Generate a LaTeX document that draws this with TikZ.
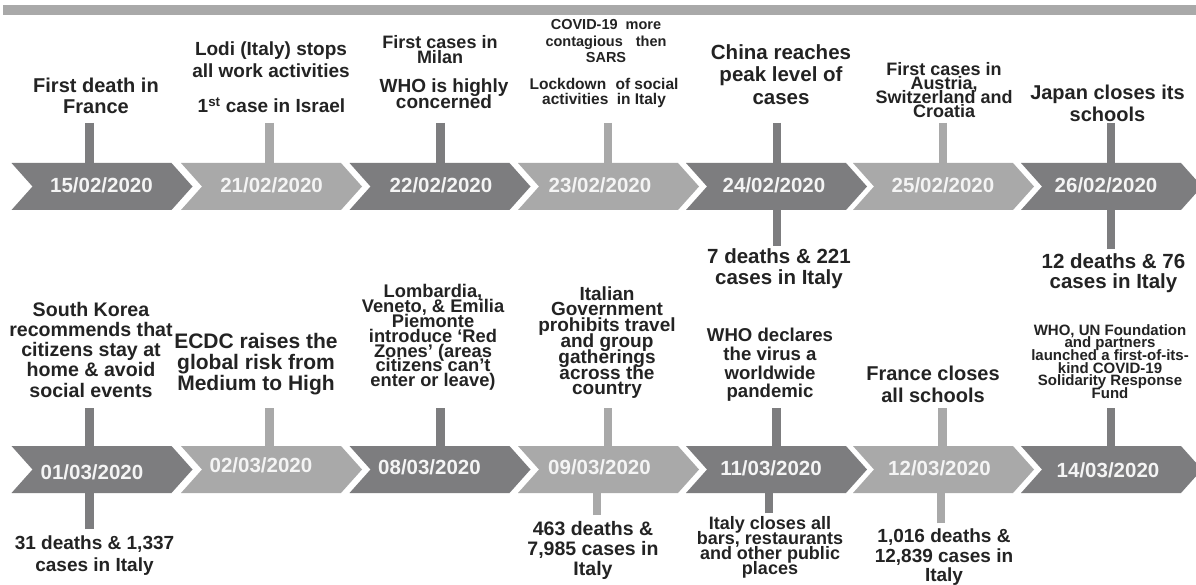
\documentclass[tikz,border=0pt]{standalone}
\usepackage{fontspec}
\setmainfont{Liberation Sans}
\usetikzlibrary{calc}
\lineskiplimit=-\maxdimen
\definecolor{chdark}{RGB}{125,125,127}
\definecolor{chlight}{RGB}{169,169,169}
\definecolor{txt}{RGB}{35,35,35}
\definecolor{datecol}{RGB}{244,244,244}
\tikzset{
  chbody/.style={minimum width=181pt,minimum height=47pt,inner sep=0pt,outer sep=0pt,anchor=north west},
  datelbl/.style={font=\bfseries\fontsize{20.5}{22}\selectfont,text=datecol,inner sep=0pt},
  ev/.style 2 args={font=\bfseries\fontsize{#1}{#2}\selectfont,text=txt,align=center,inner sep=0pt},
  stubd/.style={draw=chdark,line width=8.5pt},
  stubl/.style={draw=chlight,line width=8.5pt},
}
\newcommand\chevfill[2]{\fill[#2] (#1.north west) -- ($(#1.north east)+(-21pt,0pt)$) -- (#1.east) -- ($(#1.south east)+(-21pt,0pt)$) -- (#1.south west) -- ($(#1.west)+(21pt,0pt)$) -- cycle;}
\begin{document}
\begin{tikzpicture}[x=1pt,y=-1pt]
\useasboundingbox (0,0) rectangle (1196,585);
\fill[white] (0,0) rectangle (1196,585);
\fill[chlight] (3,5) rectangle (1196,15);

% chevron bodies, top row
\node[chbody] (t1) at (11.5,163) {};
\node[chbody] (t2) at (181,163) {};
\node[chbody] (t3) at (349.5,163) {};
\node[chbody] (t4) at (518,163) {};
\node[chbody] (t5) at (686,163) {};
\node[chbody] (t6) at (853,163) {};
\node[chbody] (t7) at (1021,163) {};
% bottom row
\node[chbody] (b1) at (11.5,446) {};
\node[chbody] (b2) at (181,446) {};
\node[chbody] (b3) at (349.5,446) {};
\node[chbody] (b4) at (518,446) {};
\node[chbody] (b5) at (686,446) {};
\node[chbody] (b6) at (853,446) {};
\node[chbody] (b7) at (1021,446) {};

% stub free ends
\coordinate (ta1) at (89.5,123);
\coordinate (ta2) at (269.5,123);
\coordinate (ta3) at (440.5,123);
\coordinate (ta4) at (608,123);
\coordinate (ta5) at (777,123);
\coordinate (ta6) at (943,123);
\coordinate (ta7) at (1111,123);
\coordinate (tb5) at (777,246);
\coordinate (tb7) at (1111,249);
\coordinate (ba1) at (89.5,408);
\coordinate (ba2) at (269.5,408);
\coordinate (ba3) at (440.5,408);
\coordinate (ba4) at (608,408);
\coordinate (ba5) at (776.5,408);
\coordinate (ba6) at (942.5,408);
\coordinate (ba7) at (1111,408);
\coordinate (bb1) at (89.5,529);
\coordinate (bb4) at (597,515);
\coordinate (bb5) at (769,513);
\coordinate (bb6) at (941,523);

% stubs
\draw[stubd] (ta1) -- (ta1 |- t1.north);
\draw[stubl] (ta2) -- (ta2 |- t2.north);
\draw[stubd] (ta3) -- (ta3 |- t3.north);
\draw[stubl] (ta4) -- (ta4 |- t4.north);
\draw[stubd] (ta5) -- (ta5 |- t5.north);
\draw[stubl] (ta6) -- (ta6 |- t6.north);
\draw[stubd] (ta7) -- (ta7 |- t7.north);
\draw[stubd] (tb5) -- (tb5 |- t5.south);
\draw[stubd] (tb7) -- (tb7 |- t7.south);
\draw[stubd] (ba1) -- (ba1 |- b1.north);
\draw[stubl] (ba2) -- (ba2 |- b2.north);
\draw[stubd] (ba3) -- (ba3 |- b3.north);
\draw[stubl] (ba4) -- (ba4 |- b4.north);
\draw[stubd] (ba5) -- (ba5 |- b5.north);
\draw[stubl] (ba6) -- (ba6 |- b6.north);
\draw[stubd] (ba7) -- (ba7 |- b7.north);
\draw[stubd] (bb1) -- (bb1 |- b1.south);
\draw[stubl] (bb4) -- (bb4 |- b4.south);
\draw[stubd] (bb5) -- (bb5 |- b5.south);
\draw[stubl] (bb6) -- (bb6 |- b6.south);

% chevrons
\chevfill{t1}{chdark}
\chevfill{t2}{chlight}
\chevfill{t3}{chdark}
\chevfill{t4}{chlight}
\chevfill{t5}{chdark}
\chevfill{t6}{chlight}
\chevfill{t7}{chdark}
\chevfill{b1}{chdark}
\chevfill{b2}{chlight}
\chevfill{b3}{chdark}
\chevfill{b4}{chlight}
\chevfill{b5}{chdark}
\chevfill{b6}{chlight}
\chevfill{b7}{chdark}

% dates
\node[datelbl] (dt1) at (101.5,185) {15/02/2020};
\node[datelbl] (dt2) at (271.6,185) {21/02/2020};
\node[datelbl] (dt3) at (441,185) {22/02/2020};
\node[datelbl] (dt4) at (600,185) {23/02/2020};
\node[datelbl] (dt5) at (774,185) {24/02/2020};
\node[datelbl] (dt6) at (943,185) {25/02/2020};
\node[datelbl] (dt7) at (1106,185) {26/02/2020};
\node[datelbl] (db1) at (92,472) {01/03/2020};
\node[datelbl] (db2) at (261,465) {02/03/2020};
\node[datelbl] (db3) at (429.5,467) {08/03/2020};
\node[datelbl] (db4) at (599.5,467) {09/03/2020};
\node[datelbl] (db5) at (771,468) {11/03/2020};
\node[datelbl] (db6) at (939.5,468) {12/03/2020};
\node[datelbl] (db7) at (1108,470) {14/03/2020};

% top row events
\node[ev={20}{21}] (e1) at (96,95.5) {First death in\\France};
\node[ev={19}{22}] (e2a) at (271,60) {Lodi (Italy) stops\\all work activities};
\node[ev={19}{20}] (e2b) at (271.5,105) {1\textsuperscript{st} case in Israel};
\node[ev={18}{15}] (e3a) at (440,49.5) {First cases in\\Milan};
\node[ev={19}{15.5}] (e3b) at (444,93.5) {WHO is highly\\concerned};
\node[ev={14.5}{16.5}] (e4a) at (606,41.5) {COVID-19\hspace{4pt} more\\contagious\hspace{9pt} then\\SARS};
\node[ev={15.5}{15}] (e4b) at (604,92.5) {Lockdown\hspace{5pt} of social\\activities\hspace{4pt} in Italy};
\node[ev={20.5}{22.5}] (e5) at (781,74.5) {China reaches\\peak level of\\cases};
\node[ev={18}{14}] (e6) at (944,90) {First cases in\\Austria,\\Switzerland and\\Croatia};
\node[ev={20}{22}] (e7) at (1107.5,103) {Japan closes its\\schools};
\node[ev={20.5}{21}] (e8) at (779,268.5) {7 deaths \& 221\\cases in Italy};
\node[ev={20.5}{20.5}] (e9) at (1113.5,273) {12 deaths \& 76\\cases in Italy};

% bottom row events
\node[ev={19.6}{20.25}] (f1) at (91,349.5) {South Korea\\recommends that\\citizens stay at\\home \& avoid\\social events};
\node[ev={21}{21}] (f2) at (256,364) {ECDC raises the\\global risk from\\Medium to High};
\node[ev={18.3}{14.8}] (f3) at (433,337.5) {Lombardia,\\Veneto, \& Emilia\\Piemonte\\introduce ‘Red\\Zones’ (areas\\citizens can’t\\enter or leave)};
\node[ev={19}{15.8}] (f4) at (607,342.5) {Italian\\Government\\prohibits travel\\and group\\gatherings\\across the\\country};
\node[ev={18.6}{18.7}] (f5) at (770,365) {WHO declares\\the virus a\\worldwide\\pandemic};
\node[ev={20}{22}] (f6) at (933,384) {France closes\\all schools};
\node[ev={15}{12.6}] (f7) at (1110,361.5) {WHO, UN Foundation\\and partners\\launched a first-of-its-\\kind COVID-19\\Solidarity Response\\Fund};
\node[ev={19}{22}] (g1) at (94.5,556) {31 deaths \& 1,337\\cases in Italy};
\node[ev={19.5}{20}] (g2) at (593,550) {463 deaths \&\\7,985 cases in\\Italy};
\node[ev={18}{15}] (g3) at (770,547.5) {Italy closes all\\bars, restaurants\\and other public\\places};
\node[ev={19}{19.5}] (g4) at (944,557.5) {1,016 deaths \&\\12,839 cases in\\Italy};
\end{tikzpicture}
\end{document}
